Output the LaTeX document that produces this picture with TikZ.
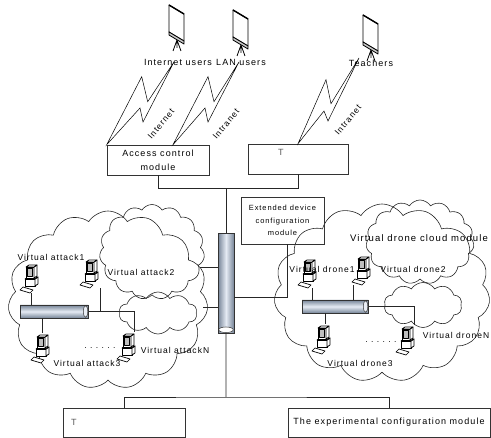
\documentclass[tikz,border=0pt]{standalone}
\usepackage{fontspec}
\setmainfont{Liberation Sans}[LetterSpace=12]
\usetikzlibrary{shapes.geometric,shapes.symbols}

\definecolor{pipe}{HTML}{A9BDD9}
\tikzset{box/.style = {rectangle, draw = black!80, line width = 0.6pt, inner sep = 2pt, align = center, font = \fontsize{9}{14}\selectfont},
         cloudy/.style = {cloud, draw = black!85, line width = 0.6pt, cloud puffs = 15, cloud puff arc = 115, cloud ignores aspect, inner sep = 0pt},
         wire/.style = {draw = black!85, line width = 0.6pt},
         bolt/.style = {line width = 0.5pt, line join = miter},
         tag/.style = {inner sep = 1pt, font = \fontsize{8.5}{10}\selectfont},
         toptag/.style = {inner sep = 1pt, font = \fontsize{9}{10}\selectfont},
         pcbox/.style = {inner sep = 0pt, minimum width = 22pt, minimum height = 30pt},
         scrbox/.style = {inner sep = 0pt, minimum width = 18pt, minimum height = 48pt},
         pipev/.style = {cylinder, shape border rotate = 270, aspect = 0.45, draw = black!80, line width = 0.7pt, inner sep = 0pt,
                         left color = pipe!70!black, right color = pipe!70!black, middle color = pipe!30!white,
                         path picture = {\draw[fill = white, line width = 0.5pt] ([yshift = 3.4pt]path picture bounding box.south) ellipse (7.2pt and 2.8pt);}},
         pipeh/.style = {cylinder, aspect = 0.45, draw = black!80, line width = 0.7pt, inner sep = 0pt,
                         top color = pipe!70!black, bottom color = pipe!70!black, middle color = pipe!30!white,
                         path picture = {\draw[fill = pipe!25!white, line width = 0.5pt] ([xshift = -2.6pt]path picture bounding box.east) ellipse (2.2pt and 5.8pt);}},
         pc/.pic = {
           \begin{scope}[x = 1pt, y = 1pt, line width = 0.7pt, line join = round]
             % keyboard, base, monitor
             \draw[fill = white] (-11,-12) -- (-1,-15) -- (2,-12) -- (-8,-9) -- cycle;
             \draw[fill = white] (-6,-8) rectangle (4,-1);
             \draw[fill = white] (4,-8) -- (7,-6) -- (7,1) -- (4,-1) -- cycle;
             \draw[fill = white] (-6,-1) -- (-3,1) -- (7,1) -- (4,-1) -- cycle;
             \draw[fill = white] (-5,0) rectangle (3,11);
             \draw[fill = white] (3,0) -- (6,2) -- (6,13) -- (3,11) -- cycle;
             \draw[fill = white] (-5,11) -- (-2,13) -- (6,13) -- (3,11) -- cycle;
             \draw[fill = black!25, line width = 0.4pt] (-3.5,2) rectangle (1.5,9.5);
           \end{scope}},
         screen/.pic = {
           \begin{scope}[x = 1pt, y = 1pt, line width = 0.8pt, line join = round]
             \draw (0,-13) -- (-4,-24) (0,-13) -- (4,-24) (0,-13) -- (0,-21);
             \draw[fill = white] (-8,22) -- (7,13) -- (7,-14) -- (-8,-5) -- cycle;
             \draw[fill = black!20] (-8,-5) -- (7,-14) -- (7,-17) -- (-8,-8) -- cycle;
             \draw[line width = 1.4pt] (-8,22) -- (7,13);
           \end{scope}}}

\begin{document}
\begin{tikzpicture}[x = 1pt, y = -1pt]
\useasboundingbox (0,0) rectangle (491,438);

% clouds
\node[cloudy, minimum width = 200pt, minimum height = 178pt] (lcloud) at (108,300) {};
\node[cloudy, minimum width = 105pt, minimum height = 95pt] (lcloudA) at (152,252) {};
\node[cloudy, minimum width = 78pt, minimum height = 42pt, cloud puffs = 10] (lcloudB) at (158,313) {};
\node[cloudy, minimum width = 216pt, minimum height = 178pt] (rcloud) at (382,293) {};
\node[cloudy, minimum width = 108pt, minimum height = 84pt] (rcloudA) at (420,242) {};
\node[cloudy, minimum width = 78pt, minimum height = 45pt, cloud puffs = 10] (rcloudB) at (423,305) {};

% modules
\node[box, minimum width = 102pt, minimum height = 30pt] (access) at (158,160) {Access control\\module};
\node[box, minimum width = 100pt, minimum height = 30pt, text = black!65, text width = 40pt, align = left, text depth = 14pt] (tbox) at (298,159) {T};
\node[box, font = \fontsize{7.5}{12.5}\selectfont, minimum width = 83pt, minimum height = 47pt] (extdev) at (282.5,220.5) {Extended device\\configuration\\module};
\node[box, minimum width = 122pt, minimum height = 29pt, text = black!65, text width = 106pt, align = left] (tleft) at (124,422.5) {T};
\node[box, minimum width = 202pt, minimum height = 29pt] (expconf) at (389,422.5) {The experimental configuration module};

% users
\path (177,27) node[scrbox] (inet) {} pic {screen};
\path (241,32) node[scrbox] (lan) {} pic {screen};
\path (371,37) node[scrbox] (teach) {} pic {screen};
\node[toptag] (linet) at (178,62) {Internet users};
\node[toptag] (llan) at (241,62) {LAN users};
\node[toptag] (lteach) at (371,63) {Teachers};

% lightning links
\coordinate (b1) at (174,62);
\coordinate (b2) at (239,62);
\coordinate (b3) at (359,58);
\draw[bolt] (access.north west) -- ++(35,-68) -- ++(6,25) -- (b1) -- ++(-31,60) -- ++(-3,-14) -- cycle;
\draw[bolt] ([xshift = 15pt]access.north) -- ++(35,-68) -- ++(6,25) -- (b2) -- ++(-31,60) -- ++(-3,-14) -- cycle;
\draw[bolt] (tbox.north) -- ++(28,-64) -- ++(5,24) -- (b3) -- ++(-31,63) -- ++(-4,-10) -- cycle;
\node[tag, rotate = 50] (net1) at (161,124) {Internet};
\node[tag, rotate = 50] (net2) at (226,124) {Intranet};
\node[tag, rotate = 50] (net3) at (348,120) {Intranet};

% main bus
\node[pipev, minimum width = 16pt, minimum height = 100pt] (bus) at (226,283) {};
\draw[wire] (access.south) -- ++(0,13) coordinate (j1) -| (tbox.south);
\draw[wire] (bus.north) -- (bus.north |- j1);
\coordinate (j2) at (226,397);
\draw[wire] (bus.south) -- (j2);
\draw[wire] (tleft.north) |- (j2) -| (expconf.north);
\draw[wire] ([xshift = 5pt]extdev.south) |- ([yshift = -14pt]bus.east);
\coordinate (l1) at (200,267);
\coordinate (l2) at (203,307);
\draw[wire] (l1) -- (l1 -| bus.west);
\draw[wire] (l2) -- (l2 -| bus.west);

% attack side
\node[pipeh, minimum height = 68pt, minimum width = 13pt] (lbus) at (54,311.5) {};
\path (31,278) node[pcbox] (a1) {} pic {pc};
\path (91,273) node[pcbox] (a2) {} pic {pc};
\path (42,348) node[pcbox] (a3) {} pic {pc};
\path (128,347) node[pcbox] (aN) {} pic {pc};
\draw[wire] (a1.south) -- (a1.south |- lbus.north);
\draw[wire] ([xshift = 9pt]a2.south) -- ([xshift = 9pt]a2.south |- lbus.east);
\draw[wire] (a3.north) -- (a3.north |- lbus.south);
\draw[wire] (lbus.east) -| ([xshift = 6pt]aN.north);
\node[tag] (ta1) at (51,257) {Virtual attack1};
\node[tag] (ta2) at (141,272) {Virtual attack2};
\node[tag] (ta3) at (87,363) {Virtual attack3};
\node[tag] (taN) at (175,350) {Virtual attackN};
\node[tag] (adots) at (100,348) {.\ .\ .\ .\ .\ .};

% drone side
\node[pipeh, minimum height = 66pt, minimum width = 13pt] (rbus) at (335,306.5) {};
\path (309,273) node[pcbox] (d1) {} pic {pc};
\path (363,270) node[pcbox] (d2) {} pic {pc};
\path (323,339) node[pcbox] (d3) {} pic {pc};
\path (407,340) node[pcbox] (dN) {} pic {pc};
\draw[wire] ([xshift = 3pt]d1.south) -- ([xshift = 3pt]d1.south |- rbus.north);
\draw[wire] ([xshift = -10pt]d2.south) -- ([xshift = -10pt]d2.south |- rbus.north);
\draw[wire] ([xshift = 2pt]d3.north) -- ([xshift = 2pt]d3.north |- rbus.south);
\draw[wire] (rbus.east) -| ([xshift = 7pt]dN.north);
\node[tag] (td1) at (322,269) {Virtual drone1};
\node[tag] (td2) at (413,269) {Virtual drone2};
\node[tag] (td3) at (360,363) {Virtual drone3};
\node[tag] (tdN) at (456,335) {Virtual droneN};
\node[tag] (ddots) at (381,342) {.\ .\ .\ .\ .\ .};
\node[toptag, font = \fontsize{9.5}{10}\selectfont] (rtitle) at (419,238) {Virtual drone cloud module};
\end{tikzpicture}
\end{document}
